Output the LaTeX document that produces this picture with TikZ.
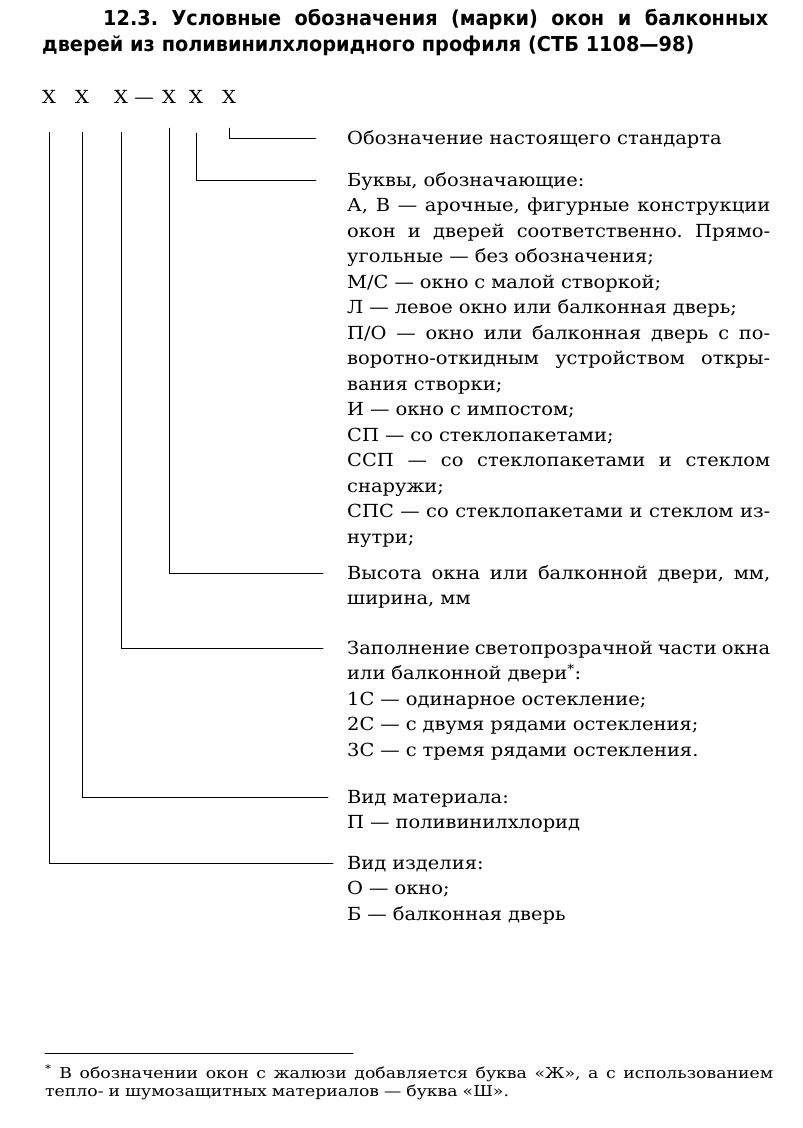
\documentclass[tikz,border=0pt]{standalone}
\usepackage{fontspec}
\setmainfont{DejaVu Serif}[FakeStretch=1.08]
\newfontfamily\headfont{DejaVu Sans}[FakeStretch=0.94]
\newfontfamily\notefont{DejaVu Serif}[FakeStretch=1.15]
\usepackage{tikz}

\newlength\colw
\setlength\colw{423pt}
\newcommand\spreadto[2]{{\frenchspacing\spaceskip=0pt\xspaceskip=0pt\relax\makebox[#1][s]{#2}}}
\newcommand\fullline[1]{\spreadto{\colw}{#1}}

\begin{document}
\begin{tikzpicture}[x=1pt,y=-1pt,line cap=round,
  markline/.style={line width=0.9pt},
  letter/.style={anchor=base,inner sep=0pt,font=\fontsize{18}{22}\selectfont},
  legend/.style={anchor=base west,inner sep=0pt,text width=\colw,align=left,font=\fontsize{18}{25.5}\selectfont}]
\useasboundingbox (0,0) rectangle (803,1128);
% heading
\node[anchor=base west,inner sep=0pt,text width=726pt,align=left,font=\headfont\bfseries\fontsize{20.5}{26}\selectfont] (title) at (42,25)
  {\hspace*{61pt}\spreadto{665pt}{12.3. Условные обозначения (марки) окон и балконных}\\дверей из поливинилхлоридного профиля (СТБ 1108—98)};
% the mark
\node[letter] (x1) at (49,103) {Х};
\node[letter] (x2) at (82,103) {Х};
\node[letter] (x3) at (121,103) {Х};
\node[letter] (dash) at (144,103) {—};
\node[letter] (x4) at (169,103) {Х};
\node[letter] (x5) at (196,103) {Х};
\node[letter] (x6) at (229,103) {Х};
% explanations
\node[legend] (t6) at (347,144) {Обозначение настоящего стандарта};
\node[legend] (t5) at (347,186) {Буквы, обозначающие:\\
  \fullline{А, В — арочные, фигурные конструкции}\\
  \fullline{окон и дверей соответственно. Прямо-}\\
  угольные — без обозначения;\\
  М/С — окно с малой створкой;\\
  Л — левое окно или балконная дверь;\\
  \fullline{П/О — окно или балконная дверь с по-}\\
  \fullline{воротно-откидным устройством откры-}\\
  вания створки;\\
  И — окно с импостом;\\
  СП — со стеклопакетами;\\
  \fullline{ССП — со стеклопакетами и стеклом}\\
  снаружи;\\
  \fullline{СПС — со стеклопакетами и стеклом из-}\\
  нутри;};
\node[legend] (t4) at (347,579) {\fullline{Высота окна или балконной двери, мм,}\\ширина, мм};
\node[legend] (t3) at (347,654) {\fullline{Заполнение светопрозрачной части окна}\\
  или балконной двери\textsuperscript{*}:\\
  1С — одинарное остекление;\\
  2С — с двумя рядами остекления;\\
  3С — с тремя рядами остекления.};
\node[legend] (t2) at (347,803) {Вид материала:\\П — поливинилхлорид};
\node[legend] (t1) at (347,869) {Вид изделия:\\О — окно;\\Б — балконная дверь};
% leaders
\draw[markline] ([yshift=-25pt]x6.south) |- ([xshift=-31pt,yshift=6pt]t6.base west);
\draw[markline] ([yshift=-30pt]x5.south) |- ([xshift=-31pt,yshift=6pt]t5.base west);
\draw[markline] ([yshift=-25pt]x4.south) |- ([xshift=-24pt,yshift=6pt]t4.base west);
\draw[markline] ([yshift=-29pt]x3.south) |- ([xshift=-24pt,yshift=6pt]t3.base west);
\draw[markline] ([yshift=-29pt]x2.south) |- ([xshift=-19pt,yshift=6pt]t2.base west);
\draw[markline] ([yshift=-29pt]x1.south) |- ([xshift=-14pt,yshift=6pt]t1.base west);
% footnote
\draw[line width=0.9pt] (45,1053) -- (353,1053);
\node[anchor=base west,inner sep=0pt,text width=728pt,align=left,font=\notefont\fontsize{15}{18}\selectfont] (note) at (45,1078)
  {\spreadto{728pt}{\textsuperscript{*} В обозначении окон с жалюзи добавляется буква «Ж», а с использованием}\\тепло- и шумозащитных материалов — буква «Ш».};
\end{tikzpicture}
\end{document}
